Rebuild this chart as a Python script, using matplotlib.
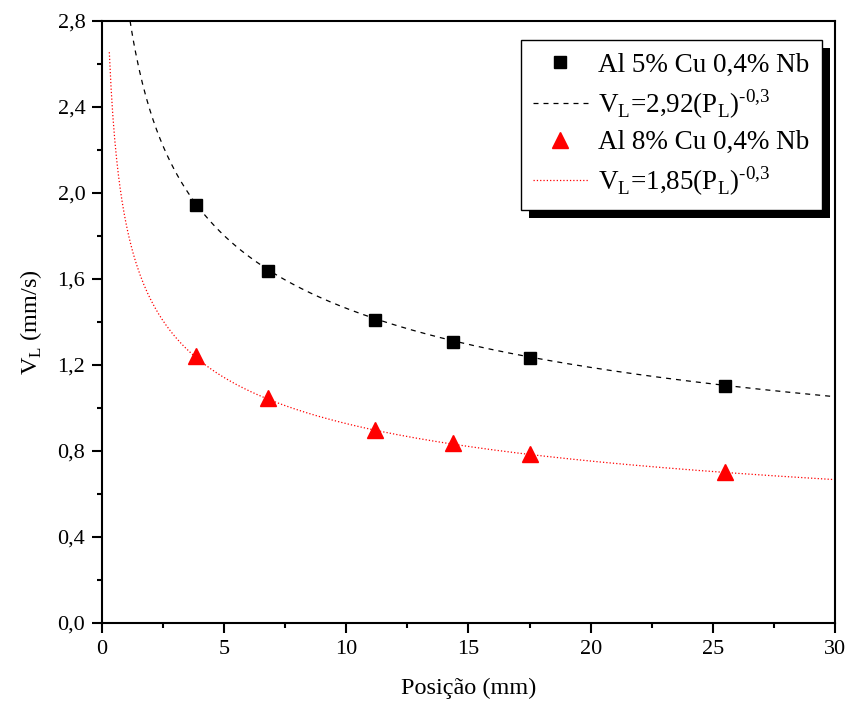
import numpy as np
import matplotlib.pyplot as plt
from matplotlib.patches import Rectangle

plt.rcParams['font.family'] = ['Liberation Serif', 'DejaVu Serif']
plt.rcParams['mathtext.fontset'] = 'custom'
plt.rcParams['mathtext.rm'] = 'Liberation Serif'

# Posições medidas (mm) e velocidades da isoterma liquidus (mm/s)
posicao = [3.85, 6.8, 11.17, 14.37, 17.52, 25.5]
vl_5cu = [1.945, 1.638, 1.410, 1.306, 1.234, 1.102]
vl_8cu = [1.242, 1.047, 0.898, 0.836, 0.786, 0.702]

# Coeficientes dos ajustes V_L = a (P_L)^b
a_5cu, a_8cu, expoente = 2.92, 1.85, -0.3
x_ini_5cu, x_ini_8cu, x_fim = 1.15, 0.3, 30

fig = plt.figure(figsize=(8.47, 7.11), dpi=100)
ax = fig.add_axes([0.1204, 0.1238, 0.8654, 0.8467])

p1 = np.linspace(x_ini_5cu, x_fim, 400)
p2 = np.linspace(x_ini_8cu, x_fim, 400)

sub_l = r'$_\mathregular{L}$'
sup = '$^\\mathregular{\u2010 0{,}3}$'

ax.plot(posicao, vl_5cu, 's', color='black', ms=8.5, ls='none',
        label='Al 5% Cu 0,4% Nb', zorder=3)
ax.plot(p1, a_5cu * p1 ** expoente, '--', color='black', lw=0.9, dashes=(4, 4),
        label='V' + sub_l + '=2,92(P' + sub_l + ')' + sup)
ax.plot(posicao, vl_8cu, '^', color='red', ms=11, ls='none',
        label='Al 8% Cu 0,4% Nb', zorder=3)
ax.plot(p2, a_8cu * p2 ** expoente, ':', color='red', lw=0.9,
        label='V' + sub_l + '=1,85(P' + sub_l + ')' + sup)

ax.set_xlim(0, 30)
ax.set_ylim(0, 2.8)
ax.set_xticks([0, 5, 10, 15, 20, 25, 30])
ax.set_xticks(np.arange(2.5, 30, 5), minor=True)
ax.set_yticks(np.arange(0, 2.81, 0.4))
ax.set_yticks(np.arange(0.2, 2.8, 0.4), minor=True)
ax.set_yticklabels([f'{v:.1f}'.replace('.', ',') for v in np.arange(0, 2.81, 0.4)])

ax.tick_params(which='both', direction='out', top=False, right=False,
               labelsize=16, width=1.5)
ax.tick_params(which='major', length=7, pad=5)
ax.tick_params(which='minor', length=3.5)
for s in ax.spines.values():
    s.set_linewidth(1.5)

ax.set_xlabel('Posição (mm)', fontsize=17.5, labelpad=14)
ax.set_ylabel('V' + sub_l + ' (mm/s)', fontsize=17.5, labelpad=10)

leg = ax.legend(loc='upper right', bbox_to_anchor=(0.982, 0.968), borderaxespad=0,
                fancybox=False, edgecolor='black', framealpha=1, fontsize=19.5,
                handlelength=2.0, labelspacing=0.35, borderpad=0.45,
                handletextpad=0.4)
leg.get_frame().set_linewidth(1.0)

# sombra da legenda
fig.canvas.draw()
bb = leg.get_frame().get_window_extent()
sombra = Rectangle((bb.x0 + 8, bb.y0 - 8), bb.width, bb.height, transform=None,
                   facecolor='black', edgecolor='none', zorder=4)
ax.add_artist(sombra)
leg.set_zorder(5)

fig.savefig('out.png', dpi=100)
